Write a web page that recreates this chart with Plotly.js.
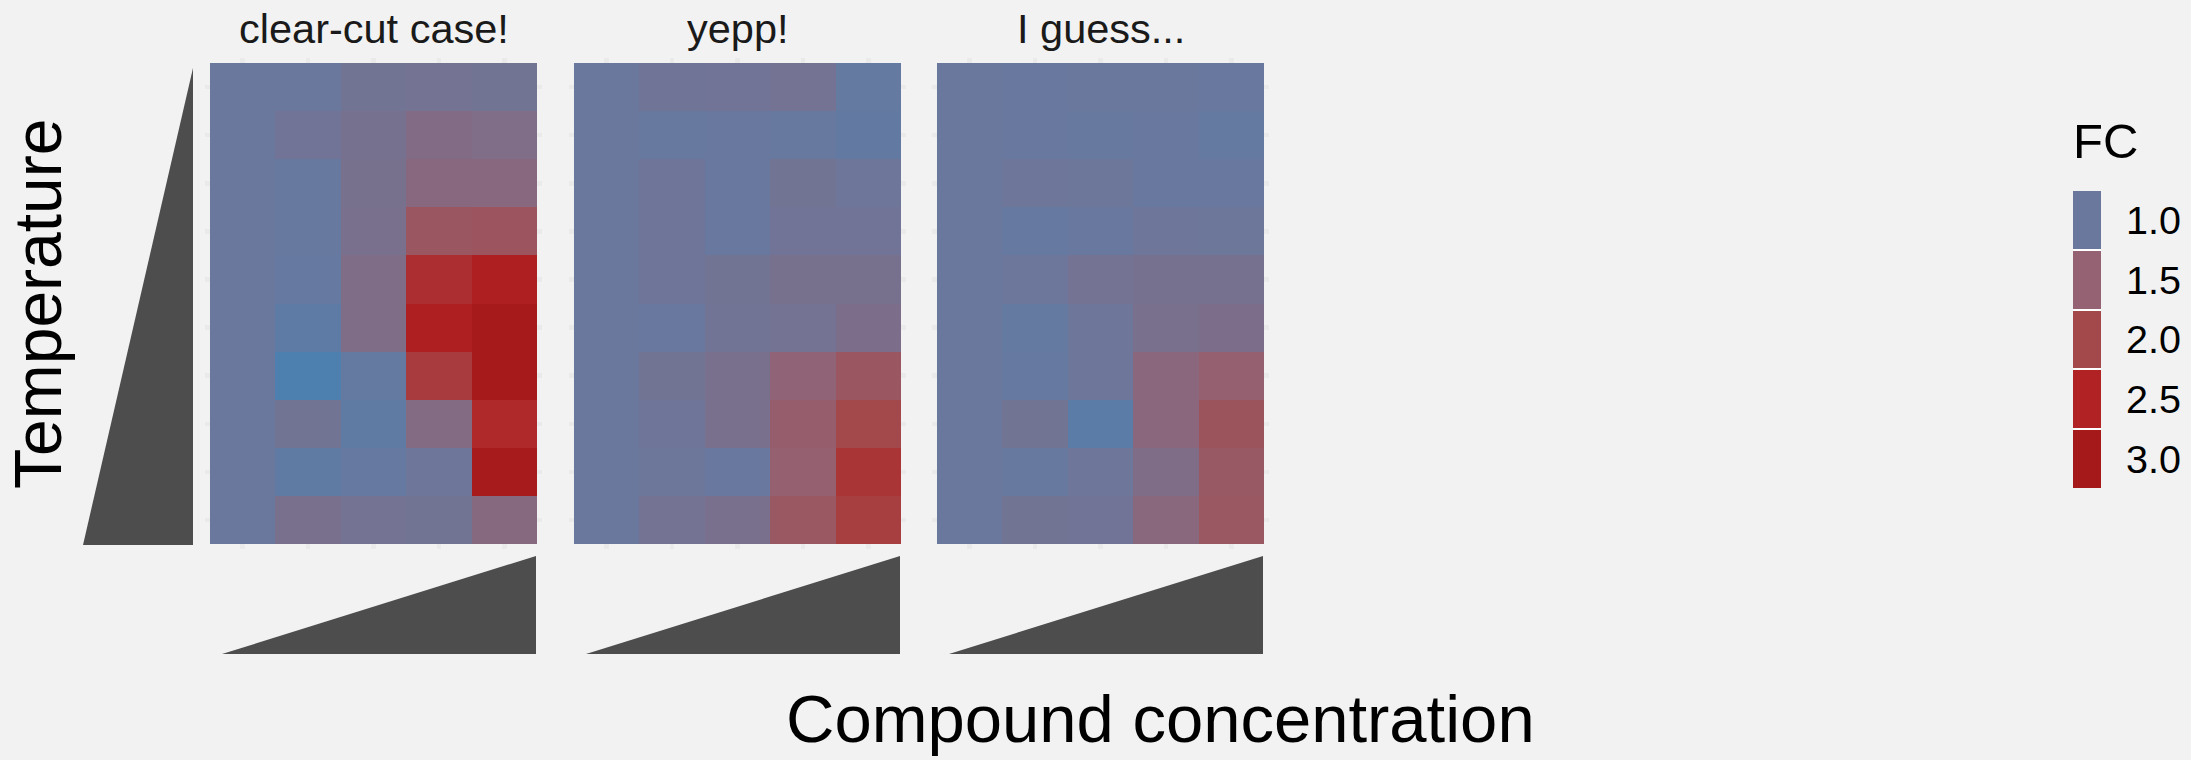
<!DOCTYPE html>
<html>
<head>
<meta charset="utf-8">
<script src="https://cdn.plot.ly/plotly-3.0.1.min.js"></script>
<style>
  html, body { margin: 0; padding: 0; background: #F2F2F2; }
  #chart { width: 2191px; height: 760px; }
</style>
</head>
<body>
<div id="chart"></div>
<script>
// Compound concentration steps (columns) and temperature steps (rows, listed top to bottom)
const concentration = ['c1', 'c2', 'c3', 'c4', 'c5'];
const temperature = ['t1', 't2', 't3', 't4', 't5', 't6', 't7', 't8', 't9', 't10'];

const panelTitles = ['clear-cut case!', 'yepp!', 'I guess...'];

// Fold change per cell, rows top to bottom, columns left to right
const fcClearCut = [
  [1.00, 1.00, 1.10, 1.12, 1.10],
  [1.00, 1.08, 1.15, 1.28, 1.26],
  [1.00, 0.97, 1.17, 1.36, 1.36],
  [1.00, 0.97, 1.18, 1.72, 1.76],
  [1.00, 0.95, 1.25, 2.35, 2.64],
  [1.00, 0.85, 1.25, 2.65, 2.95],
  [1.00, 0.65, 0.92, 2.18, 2.95],
  [1.00, 1.10, 0.88, 1.30, 2.42],
  [1.00, 0.88, 0.95, 1.05, 2.90],
  [1.00, 1.18, 1.12, 1.10, 1.35]
];

const fcYepp = [
  [1.00, 1.07, 1.08, 1.12, 0.93],
  [1.00, 0.96, 0.98, 0.96, 0.90],
  [1.00, 1.06, 0.99, 1.10, 1.05],
  [1.00, 1.06, 0.99, 1.08, 1.08],
  [1.00, 1.06, 1.10, 1.17, 1.17],
  [1.00, 0.98, 1.09, 1.12, 1.22],
  [1.00, 1.10, 1.18, 1.45, 1.72],
  [1.00, 1.06, 1.18, 1.58, 2.00],
  [1.00, 1.03, 0.99, 1.52, 2.26],
  [1.00, 1.12, 1.18, 1.70, 2.13]
];

const fcIGuess = [
  [1.00, 0.98, 1.00, 1.00, 0.98],
  [1.00, 0.98, 0.96, 0.98, 0.93],
  [1.00, 1.05, 1.03, 0.98, 0.99],
  [1.00, 0.95, 0.98, 1.05, 1.03],
  [1.00, 1.02, 1.12, 1.15, 1.15],
  [1.00, 0.93, 1.05, 1.18, 1.22],
  [1.00, 0.95, 1.05, 1.38, 1.52],
  [1.00, 1.10, 0.81, 1.38, 1.78],
  [1.00, 0.96, 1.05, 1.25, 1.68],
  [1.00, 1.10, 1.08, 1.37, 1.70]
];

// Legend keys
const legendBreaks = [1.0, 1.5, 2.0, 2.5, 3.0];
const legendLabels = ['1.0', '1.5', '2.0', '2.5', '3.0'];

// Colour gradient for FC
const fcMin = 0.6, fcMax = 3.0;
const fcStops = [
  [0.6, '#4A81B2'],
  [1.0, '#6A789D'],
  [1.5, '#946272'],
  [2.0, '#A3494B'],
  [2.5, '#B12224'],
  [3.0, '#A6191A']
];
const colorscale = fcStops.map(s => [(s[0] - fcMin) / (fcMax - fcMin), s[1]]);

const W = 2191, H = 760;
const px = v => v / W;
const py = v => 1 - v / H;

const FONT = '"Liberation Sans", Arial, Helvetica, sans-serif';

// Panel placement in pixels (left edge of tiles, tile width per column)
const panelLeft = [210, 574, 937];
const colW = 65.4;
const tileTop = 63, rowH = 48.1;
const padX = 0.075, padY = 0.1;

const fcPanels = [fcClearCut, fcYepp, fcIGuess];

const traces = [];
const layout = {
  width: W, height: H,
  margin: {l: 0, r: 0, t: 0, b: 0},
  paper_bgcolor: '#F2F2F2',
  plot_bgcolor: '#F2F2F2',
  showlegend: false,
  font: {family: FONT, color: '#000000'},
  annotations: [],
  shapes: []
};

const yTop = tileTop - padY * rowH;
const yBot = tileTop + 10 * rowH + padY * rowH;

fcPanels.forEach((z, i) => {
  const sfx = i === 0 ? '' : String(i + 1);
  traces.push({
    type: 'heatmap',
    x: concentration,
    y: temperature,
    z: z,
    xaxis: 'x' + sfx,
    yaxis: 'y' + sfx,
    colorscale: colorscale,
    zmin: fcMin, zmax: fcMax, zauto: false,
    showscale: false,
    hoverinfo: 'skip'
  });
  const left = panelLeft[i] - padX * colW;
  const right = panelLeft[i] + 5 * colW + padX * colW;
  layout['xaxis' + sfx] = {
    domain: [px(left), px(right)],
    anchor: 'y' + sfx,
    type: 'category',
    categoryorder: 'array', categoryarray: concentration,
    range: [-0.5 - padX, 4.5 + padX],
    showgrid: true, gridcolor: '#EAEAEA', gridwidth: 4.5,
    zeroline: false, showline: false, ticks: '', showticklabels: false,
    fixedrange: true
  };
  layout['yaxis' + sfx] = {
    domain: [py(yBot), py(yTop)],
    anchor: 'x' + sfx,
    type: 'category',
    categoryorder: 'array', categoryarray: temperature,
    range: [9.5 + padY, -0.5 - padY],
    showgrid: true, gridcolor: '#EAEAEA', gridwidth: 4.5,
    zeroline: false, showline: false, ticks: '', showticklabels: false,
    fixedrange: true
  };
  // Panel title
  layout.annotations.push({
    text: panelTitles[i],
    xref: 'paper', yref: 'paper',
    x: px(panelLeft[i] + 2.5 * colW), y: py(29),
    xanchor: 'center', yanchor: 'middle',
    showarrow: false,
    font: {family: FONT, size: 41.5, color: '#1A1A1A'}
  });
  // Rising wedge under each panel (concentration increases to the right)
  const x0 = panelLeft[i] + 12, x1 = panelLeft[i] + 326;
  layout.shapes.push({
    type: 'path', xref: 'paper', yref: 'paper',
    path: `M ${px(x0)} ${py(654)} L ${px(x1)} ${py(654)} L ${px(x1)} ${py(556)} Z`,
    fillcolor: '#4D4D4D', line: {width: 0}
  });
});

// Temperature wedge at the left
layout.shapes.push({
  type: 'path', xref: 'paper', yref: 'paper',
  path: `M ${px(193)} ${py(68)} L ${px(193)} ${py(545)} L ${px(83)} ${py(545)} Z`,
  fillcolor: '#4D4D4D', line: {width: 0}
});

// Legend keys drawn as a one-column heatmap with the same gradient
const legTop = 190, legBot = 489;
traces.push({
  type: 'heatmap',
  x: ['FC'],
  y: legendLabels,
  z: legendBreaks.map(v => [v]),
  xaxis: 'x4', yaxis: 'y4',
  colorscale: colorscale,
  zmin: fcMin, zmax: fcMax, zauto: false,
  showscale: false,
  ygap: 2,
  hoverinfo: 'skip'
});
layout.xaxis4 = {
  domain: [px(2073), px(2101)], anchor: 'y4',
  type: 'category', range: [-0.5, 0.5],
  showgrid: false, zeroline: false, showline: false, ticks: '', showticklabels: false,
  fixedrange: true
};
layout.yaxis4 = {
  domain: [py(legBot), py(legTop)], anchor: 'x4', side: 'right',
  type: 'category', categoryorder: 'array', categoryarray: legendLabels,
  range: [4.5, -0.5],
  showgrid: false, zeroline: false, showline: false, ticks: '',
  ticklabelstandoff: 24,
  tickfont: {family: FONT, size: 39.5, color: '#000000'},
  fixedrange: true
};
// White separators between legend keys
layout.shapes.push({
  type: 'rect', xref: 'x4 domain', yref: 'y4 domain',
  x0: 0, x1: 1, y0: 1 / (legBot - legTop), y1: 1 - 1 / (legBot - legTop),
  fillcolor: '#FFFFFF', line: {width: 0}, layer: 'below'
});

// Legend title
layout.annotations.push({
  text: 'FC', xref: 'paper', yref: 'paper',
  x: px(2071), y: py(141), xanchor: 'left', yanchor: 'middle',
  showarrow: false,
  font: {family: FONT, size: 49, color: '#000000'}
});

// Axis titles
layout.annotations.push({
  text: 'Temperature', xref: 'paper', yref: 'paper',
  x: px(38), y: py(304), xanchor: 'center', yanchor: 'middle',
  textangle: -90, showarrow: false,
  font: {family: FONT, size: 66, color: '#000000'}
});
layout.annotations.push({
  text: 'Compound concentration', xref: 'paper', yref: 'paper',
  x: px(1160), y: py(718), xanchor: 'center', yanchor: 'middle',
  showarrow: false,
  font: {family: FONT, size: 67, color: '#000000'}
});

Plotly.newPlot('chart', traces, layout, {displayModeBar: false, staticPlot: true});
</script>
</body>
</html>
